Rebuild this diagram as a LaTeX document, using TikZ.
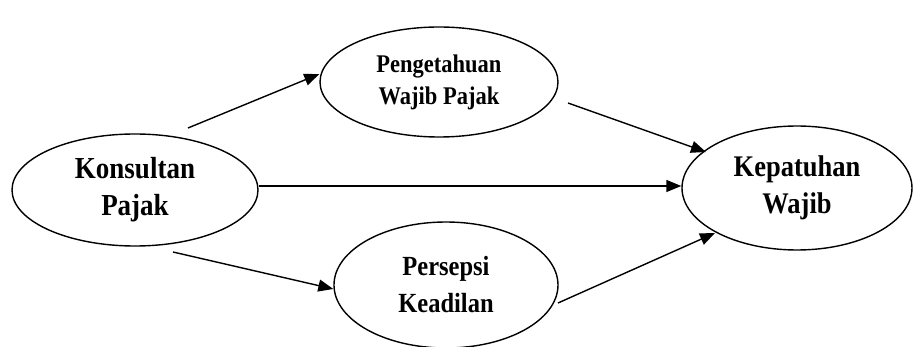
\documentclass[tikz,border=0pt]{standalone}
\usepackage{fontspec}
\setmainfont{Liberation Serif}
\usetikzlibrary{shapes.geometric,arrows.meta}
\newcommand{\tallline}[1]{\scalebox{1}[1.13]{#1}}
\tikzset{
  var/.style={draw, ellipse, line width=1.4pt, inner sep=0pt, align=center,
    font=\bfseries},
  link/.style={line width=1.4pt, -{Triangle[length=15pt,width=12pt]}}
}
\begin{document}
\begin{tikzpicture}[x=1pt,y=-1pt]
\useasboundingbox (0,0) rectangle (914,347);
% latent variables
\node[var, minimum width=246pt, minimum height=112pt,
  font=\bfseries\fontsize{27}{37}\selectfont] (K) at (135,190)
  {\tallline{Konsultan}\\\tallline{Pajak}};
\node[var, minimum width=238pt, minimum height=110pt,
  font=\bfseries\fontsize{22.5}{32}\selectfont] (P) at (439,82)
  {\tallline{Pengetahuan}\\\tallline{Wajib Pajak}};
\node[var, minimum width=230pt, minimum height=124pt,
  font=\bfseries\fontsize{26.5}{37}\selectfont] (Kep) at (797,188)
  {\tallline{Kepatuhan}\\\tallline{Wajib}};
\node[var, minimum width=224pt, minimum height=126pt,
  font=\bfseries\fontsize{24.5}{37}\selectfont] (Pr) at (446,285)
  {\tallline{Persepsi}\\\tallline{Keadilan}};
% paths
\draw[link] ([xshift=53pt,yshift=62pt]K.center) -- ([yshift=8pt]P.west);
\draw[link] ([yshift=4pt]K.east) -- ([yshift=2pt]Kep.west);
\draw[link] ([xshift=38pt,yshift=-62pt]K.center) -- ([yshift=-4pt]Pr.west);
\draw[link] ([xshift=129pt,yshift=-21pt]P.center) -- ([xshift=-91pt,yshift=36pt]Kep.center);
\draw[link] ([xshift=112pt,yshift=-18pt]Pr.center) -- ([xshift=-82pt,yshift=-45pt]Kep.center);
\end{tikzpicture}
\end{document}
